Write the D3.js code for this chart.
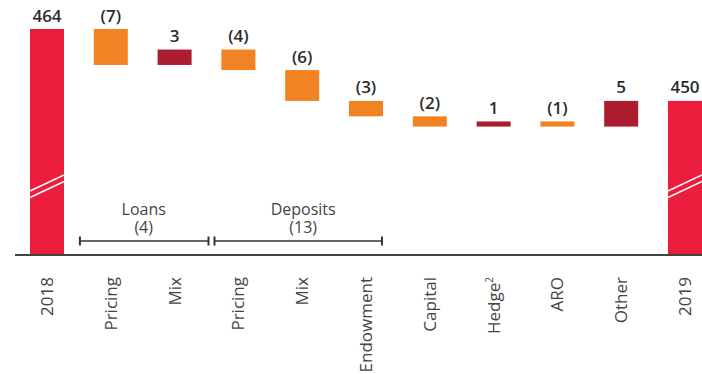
<!DOCTYPE html>
<html>
<head>
<meta charset="utf-8">
<script src="https://cdn.jsdelivr.net/npm/d3@7"></script>
<style>
  html, body { margin: 0; padding: 0; background: #fff; }
  svg { display: block; font-family: "Open Sans", sans-serif; }
</style>
</head>
<body>
<svg id="chart" width="702" height="374"></svg>
<script>
// Net interest income bridge, 2018 to 2019
const labels = ["2018", "Pricing", "Mix", "Pricing", "Mix", "Endowment", "Capital", "Hedge", "ARO", "Other", "2019"];
const superscripts = ["", "", "", "", "", "", "", "2", "", "", ""];
const values = [464, -7, 3, -4, -6, -3, -2, 1, -1, 5, 450];
const isTotal = [true, false, false, false, false, false, false, false, false, false, true];

// Bracketed groups under the bars
const groupNames = ["Loans", "Deposits"];
const groupTotals = [-4, -13];
const groupFirst = [1, 3];
const groupLast = [2, 5];

const colors = { total: "#EC1C3C", down: "#F28322", up: "#AB1C2E" };

const svg = d3.select("#chart");
const W = 702, H = 374;
const baseY = 255;
const barW = 34;

const x = d3.scalePoint().domain(d3.range(labels.length)).range([47, 685]);
const y = d3.scaleLinear().domain([420, 464]).range([baseY, 29]);

// Running totals for the floating bars
let running = 0;
const bars = values.map((v, i) => {
  let lo, hi;
  if (isTotal[i]) {
    lo = y.domain()[0]; hi = v; running = v;
  } else {
    const start = running; running += v;
    lo = Math.min(start, running); hi = Math.max(start, running);
  }
  return { i, v, lo, hi, total: isTotal[i] };
});

const fmt = v => v < 0 ? `(${-v})` : `${v}`;

// Bars
svg.append("g").selectAll("rect").data(bars).join("rect")
  .attr("x", d => x(d.i) - barW / 2)
  .attr("width", barW)
  .attr("y", d => y(d.hi))
  .attr("height", d => y(d.lo) - y(d.hi))
  .attr("fill", d => d.total ? colors.total : (d.v < 0 ? colors.down : colors.up));

// Axis-break marks on the total bars
const breakG = svg.append("g");
bars.filter(d => d.total).forEach(d => {
  [0, 6.5].forEach(off => {
    breakG.append("line")
      .attr("x1", x(d.i) - barW / 2).attr("y1", 191 + off)
      .attr("x2", x(d.i) + barW / 2).attr("y2", 175 + off)
      .attr("stroke", "#fff").attr("stroke-width", 1.4);
  });
});

// Value labels
svg.append("g").selectAll("text").data(bars).join("text")
  .attr("x", d => x(d.i))
  .attr("y", d => y(d.hi) - 7.5)
  .attr("text-anchor", "middle")
  .attr("font-size", 17)
  .attr("font-weight", 600)
  .attr("fill", "#2b2b2b")
  .text(d => fmt(d.v));

// Baseline
svg.append("line")
  .attr("x1", 15).attr("x2", W)
  .attr("y1", baseY).attr("y2", baseY)
  .attr("stroke", "#444").attr("stroke-width", 2);

// Category labels, rotated
const cat = svg.append("g").selectAll("text").data(labels).join("text")
  .attr("transform", (d, i) => `translate(${x(i) + 6},277) rotate(-90)`)
  .attr("text-anchor", "end")
  .attr("font-size", 17)
  .attr("font-weight", 400)
  .attr("fill", "#444");
cat.each(function (d, i) {
  const t = d3.select(this);
  t.append("tspan").text(d);
  if (superscripts[i]) {
    t.append("tspan").attr("font-size", 10).attr("dy", -7).text(superscripts[i]);
  }
});

// Group brackets
const step = x.step();
const grp = svg.append("g");
groupNames.forEach((name, g) => {
  const x0 = g === 0 ? x(groupFirst[g]) - step / 2 + 1 : x(groupFirst[g]) - step / 2 + 8;
  const x1 = g === 0 ? x(groupLast[g]) + step / 2 + 2 : x(groupLast[g]) + step / 4;
  const ly = 241;
  grp.append("line").attr("x1", x0).attr("x2", x1).attr("y1", ly).attr("y2", ly)
    .attr("stroke", "#333").attr("stroke-width", 1.5);
  [x0, x1].forEach(xx => grp.append("line")
    .attr("x1", xx).attr("x2", xx).attr("y1", ly - 4.5).attr("y2", ly + 4.5)
    .attr("stroke", "#333").attr("stroke-width", 2));
  const cx = (x(groupFirst[g]) + x(groupLast[g])) / 2 + 1;
  const label = grp.append("text").attr("x", cx).attr("y", 215)
    .attr("text-anchor", "middle").attr("font-size", 16).attr("font-weight", 400)
    .attr("fill", "#444");
  label.append("tspan").attr("x", cx).text(name);
  label.append("tspan").attr("x", cx).attr("dy", 18).text(fmt(groupTotals[g]));
});
</script>
</body>
</html>
